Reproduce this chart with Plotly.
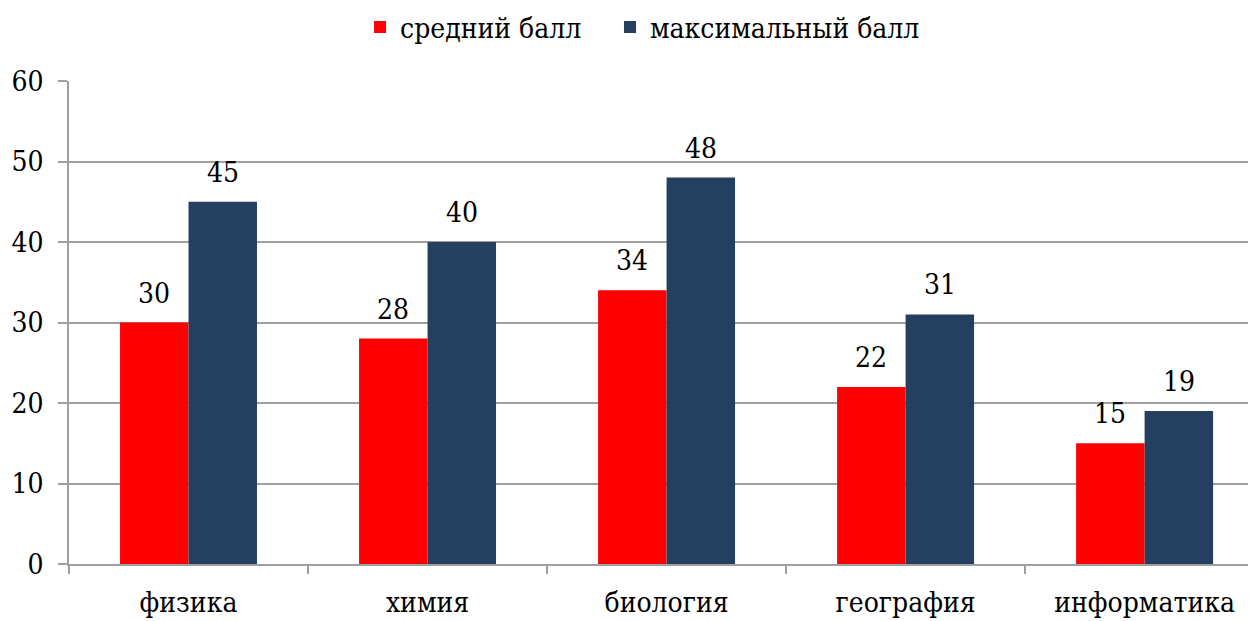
import plotly.graph_objects as go

categories = ["физика", "химия", "биология", "география", "информатика"]
avg_scores = [30, 28, 34, 22, 15]
max_scores = [45, 40, 48, 31, 19]
series_names = ["средний балл", "максимальный балл"]

FONT = "DejaVu Serif Condensed, DejaVu Serif"
FS = 28
BARGAP = 0.427

fig = go.Figure()
fig.add_trace(go.Bar(x=categories, y=avg_scores, name=series_names[0], legend="legend",
                     marker=dict(color="#FF0000", line=dict(width=0))))
fig.add_trace(go.Bar(x=categories, y=max_scores, name=series_names[1], legend="legend2",
                     marker=dict(color="#243F60", line=dict(width=0))))

# value labels placed above each bar through the axis scale
half = (1 - BARGAP) / 4
for i, cat in enumerate(categories):
    for val, off in ((avg_scores[i], -half), (max_scores[i], half)):
        fig.add_annotation(x=i + off, y=val, text=str(val), showarrow=False,
                           xref="x", yref="y", yanchor="bottom", yshift=11,
                           font=dict(family=FONT, size=FS, color="black"))

legend_common = dict(orientation="h", xanchor="left", y=0.969, yanchor="middle",
                     yref="container", xref="container",
                     font=dict(family=FONT, size=FS, color="black"),
                     itemwidth=30, bgcolor="rgba(0,0,0,0)")

fig.update_layout(
    width=1256, height=621,
    margin=dict(l=61, r=8, t=73, b=65, autoexpand=False),
    paper_bgcolor="white", plot_bgcolor="white",
    barmode="group", bargap=BARGAP, bargroupgap=0,
    font=dict(family=FONT, size=FS, color="black"),
    showlegend=True,
    legend=dict(x=0.2803, **legend_common),
    legend2=dict(x=0.4793, **legend_common),
    xaxis=dict(type="category", range=[-0.5, 4.466], showgrid=False,
               showline=True, linecolor="#A0A0A0", linewidth=1.5,
               ticks="outside", tickson="boundaries", ticklen=8,
               tickcolor="#A0A0A0", tickwidth=1.5,
               ticklabelstandoff=13,
               tickfont=dict(family=FONT, size=FS, color="black")),
    yaxis=dict(range=[0, 60], dtick=10, showgrid=True, gridcolor="#A0A0A0", gridwidth=1.5,
               showline=True, linecolor="#A0A0A0", linewidth=1.5,
               ticks="outside", ticklen=9, tickcolor="#A0A0A0", tickwidth=1.5,
               ticklabelstandoff=9, zeroline=False,
               tickfont=dict(family=FONT, size=FS, color="black")),
)

fig.write_html("out.html")
